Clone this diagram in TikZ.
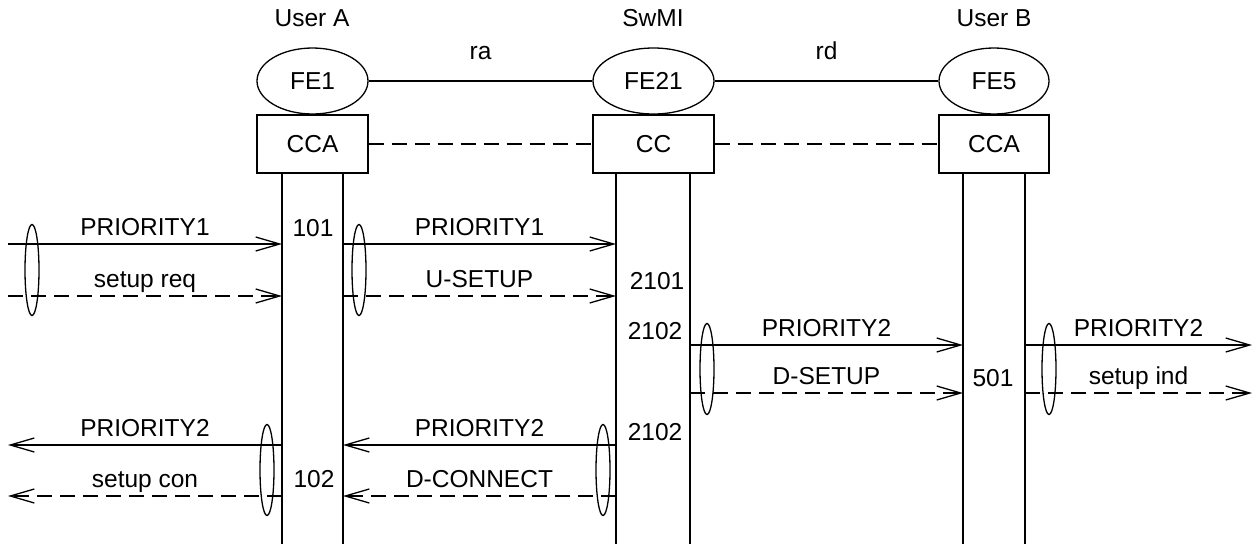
\documentclass[tikz,border=0pt]{standalone}
\usepackage{fontspec}
\setmainfont{Liberation Sans}
\usetikzlibrary{arrows.meta,shapes.geometric}
\begin{document}
\begin{tikzpicture}[x=1pt,y=-1pt,line width=1.3pt,
  txt/.style={font=\fontsize{24.5}{28}\selectfont, inner sep=0pt},
  fe/.style={draw, ellipse, minimum height=66pt, inner sep=0pt, txt},
  ccbox/.style={draw, rectangle, minimum height=58pt, inner sep=0pt, txt},
  lifeline/.style={line width=2pt},
  link/.style={line width=1.3pt},
  dlink/.style={line width=1.3pt, dash pattern=on 15pt off 8pt},
  msg/.style={line width=1.3pt, -{Straight Barb[length=24pt,width=14pt,line width=1.3pt]}},
  dmsg/.style={msg, dash pattern=on 15pt off 8pt},
  lbl/.style={txt, anchor=base, yshift=9pt},
  grp/.style={draw, ellipse, minimum width=14pt, minimum height=91pt, inner sep=0pt, line width=1.3pt}]
\useasboundingbox (0,0) rectangle (1258,544);

% headers
\node[txt] (ua) at (312,18) {User A};
\node[txt] (sw) at (653,18) {SwMI};
\node[txt] (ub) at (994,18) {User B};

% functional entities
\node[fe, minimum width=111pt] (fe1) at (312.5,81) {FE1};
\node[fe, minimum width=121pt] (fe21) at (653.5,81) {FE21};
\node[fe, minimum width=110pt] (fe5) at (994,81) {FE5};
\draw[link] (fe1) -- node[txt, anchor=base, yshift=22pt] (ra) {ra} (fe21);
\draw[link] (fe21) -- node[txt, anchor=base, yshift=22pt] (rd) {rd} (fe5);

% boxes
\node[ccbox, minimum width=111pt] (cca) at (312.5,144) {CCA};
\node[ccbox, minimum width=121pt] (cc) at (653.5,144) {CC};
\node[ccbox, minimum width=110pt] (ccb) at (994,144) {CCA};
\draw[dlink] (cca) -- (cc);
\draw[dlink] (cc) -- (ccb);

% lifelines
\foreach \n/\x in {A1/282,A2/343,S1/616,S2/690,B1/963,B2/1025}{
  \coordinate (\n t) at (\x,173);
  \coordinate (\n b) at (\x,544);
  \draw[lifeline] (\n t) -- (\n b);
}

% free ends
\coordinate (L1) at (8,244);
\coordinate (L2) at (8,296);
\coordinate (L3) at (8,445);
\coordinate (L4) at (8,496);
\coordinate (R1) at (1252,345);
\coordinate (R2) at (1252,393);

% message endpoints on lifelines
\coordinate (A1r1) at (282,244); \coordinate (A1r2) at (282,296);
\coordinate (A2r1) at (343,244); \coordinate (A2r2) at (343,296);
\coordinate (S1r1) at (616,244); \coordinate (S1r2) at (616,296);
\coordinate (S2r3) at (690,345); \coordinate (S2r4) at (690,393);
\coordinate (B1r3) at (963,345); \coordinate (B1r4) at (963,393);
\coordinate (B2r3) at (1025,345); \coordinate (B2r4) at (1025,393);
\coordinate (A1r5) at (282,445); \coordinate (A1r6) at (282,496);
\coordinate (A2r5) at (343,445); \coordinate (A2r6) at (343,496);
\coordinate (S1r5) at (616,445); \coordinate (S1r6) at (616,496);

% messages
\draw[msg] (L1) -- node[lbl] {PRIORITY1} (A1r1);
\draw[dmsg] (L2) -- node[lbl] {setup req} (A1r2);
\draw[msg] (A2r1) -- node[lbl] {PRIORITY1} (S1r1);
\draw[dmsg] (A2r2) -- node[lbl] {U-SETUP} (S1r2);
\draw[msg] (S2r3) -- node[lbl] {PRIORITY2} (B1r3);
\draw[dmsg] (S2r4) -- node[lbl] {D-SETUP} (B1r4);
\draw[msg] (B2r3) -- node[lbl] {PRIORITY2} (R1);
\draw[dmsg] (B2r4) -- node[lbl] {setup ind} (R2);
\draw[msg] (A1r5) -- node[lbl] {PRIORITY2} (L3);
\draw[dmsg] (A1r6) -- node[lbl] {setup con} (L4);
\draw[msg] (S1r5) -- node[lbl] {PRIORITY2} (A2r5);
\draw[dmsg] (S1r6) -- node[lbl] {D-CONNECT} (A2r6);

% grouping ellipses
\node[grp] (g1) at (32,270) {};
\node[grp] (g2) at (359,270) {};
\node[grp] (g3) at (707,369) {};
\node[grp] (g4) at (1049,369) {};
\node[grp] (g5) at (267,470) {};
\node[grp] (g6) at (603,470) {};

% state numbers
\node[txt] (n101) at (313,228) {101};
\node[txt] (n2101) at (657,281) {2101};
\node[txt] (n2102a) at (655,331) {2102};
\node[txt] (n501) at (993,378) {501};
\node[txt] (n2102b) at (655,432) {2102};
\node[txt] (n102) at (314,479) {102};
\end{tikzpicture}
\end{document}
